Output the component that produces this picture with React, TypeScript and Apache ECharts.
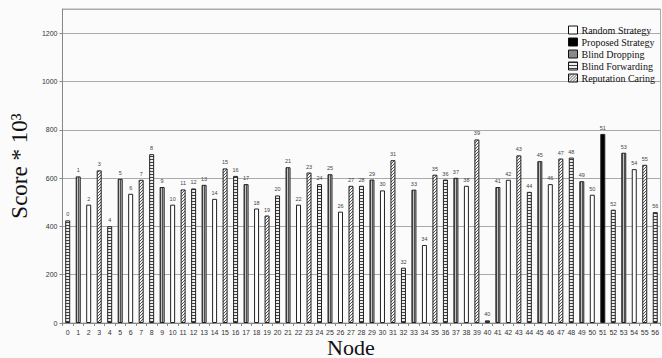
import React, { useEffect, useRef } from 'react';
import * as echarts from 'echarts';

const nodes = ['0','1','2','3','4','5','6','7','8','9','10','11','12','13','14','15','16','17','18','19','20','21','22','23','24','25','26','27','28','29','30','31','32','33','34','35','36','37','38','39','40','41','42','43','44','45','46','47','48','49','50','51','52','53','54','55','56'];

const scores = [425,607,490,632,401,597,535,593,699,563,490,553,557,572,514,640,609,575,474,445,528,645,490,623,575,616,461,568,568,594,549,674,229,552,323,614,594,601,568,760,11,563,593,694,543,670,575,681,685,587,531,783,469,705,637,655,459];

// F = Blind Forwarding, D = Blind Dropping, R = Random, C = Reputation Caring, P = Proposed
const strategyOf = ['F','D','R','C','F','D','R','C','F','D','R','C','F','D','R','C','F','D','R','C','F','D','R','C','F','D','R','C','F','D','R','C','F','D','R','C','F','D','R','C','F','D','R','C','F','D','R','C','F','D','R','P','F','D','R','C','F'];

const strategies = [
  { key: 'R', name: 'Random Strategy' },
  { key: 'P', name: 'Proposed Strategy' },
  { key: 'D', name: 'Blind Dropping' },
  { key: 'F', name: 'Blind Forwarding' },
  { key: 'C', name: 'Reputation Caring' },
];

const yTicks = { min: 0, max: 1300, interval: 200 };

function makePattern(w: number, h: number, draw: (ctx: CanvasRenderingContext2D) => void) {
  const c = document.createElement('canvas');
  c.width = w;
  c.height = h;
  const ctx = c.getContext('2d') as CanvasRenderingContext2D;
  draw(ctx);
  return { image: c.toDataURL(), repeat: 'repeat', imageWidth: w, imageHeight: h } as any;
}

export default function App() {
  const ref = useRef<HTMLDivElement>(null);
  useEffect(() => {
    if (!ref.current) return;
    const chart = echarts.init(ref.current, null, { renderer: 'svg' });

    const vertical = makePattern(2, 1, (ctx) => {
      ctx.fillStyle = '#c4c4c4';
      ctx.fillRect(0, 0, 2, 1);
      ctx.fillStyle = '#505050';
      ctx.fillRect(0, 0, 1, 1);
    });
    const horizontal = makePattern(1, 3, (ctx) => {
      ctx.fillStyle = '#eeeeee';
      ctx.fillRect(0, 0, 1, 3);
      ctx.fillStyle = '#404040';
      ctx.fillRect(0, 0, 1, 1);
    });
    const diagonal = makePattern(3, 3, (ctx) => {
      ctx.fillStyle = '#f4f4f4';
      ctx.fillRect(0, 0, 3, 3);
      ctx.fillStyle = '#555555';
      ctx.fillRect(2, 0, 1, 1);
      ctx.fillRect(1, 1, 1, 1);
      ctx.fillRect(0, 2, 1, 1);
    });

    const fills: Record<string, any> = {
      R: '#ffffff',
      P: '#000000',
      D: vertical,
      F: horizontal,
      C: diagonal,
    };

    const series = strategies.map((s) => ({
      name: s.name,
      type: 'bar',
      barWidth: 5,
      barGap: '-100%',
      data: scores.map((v, i) => (strategyOf[i] === s.key ? v : '-')),
      itemStyle: { color: fills[s.key], borderColor: '#222', borderWidth: 1 },
      label: {
        show: true,
        position: 'top',
        distance: 3,
        formatter: '{b}',
        fontSize: 5.5,
        color: '#444',
        fontFamily: 'Liberation Sans',
      },
    }));

    chart.setOption({
      animation: false,
      backgroundColor: '#fbfbfb',
      grid: {
        left: 53.5,
        right: -4.6,
        top: 9,
        bottom: 35,
        show: true,
        borderColor: '#aaaaaa',
        borderWidth: 1,
      },
      legend: {
        orient: 'vertical',
        left: 568,
        top: 25,
        padding: 0,
        itemWidth: 9,
        itemHeight: 8,
        itemGap: 2,
        icon: 'rect',
        itemStyle: { borderColor: '#111', borderWidth: 1 },
        textStyle: { fontFamily: 'Liberation Serif', fontSize: 10, color: '#111', padding: [0, 0, 0, -1] },
        data: strategies.map((s) => s.name),
      },
      xAxis: {
        type: 'category',
        data: nodes,
        axisLine: { lineStyle: { color: '#888' } },
        axisTick: { show: true, length: 3, lineStyle: { color: '#888' } },
        axisLabel: { interval: 0, fontSize: 7, color: '#333', margin: 6, fontFamily: 'Liberation Sans' },
      },
      yAxis: {
        type: 'value',
        min: yTicks.min,
        max: yTicks.max,
        interval: yTicks.interval,
        name: 'Score * 10³',
        nameLocation: 'middle',
        nameGap: 20,
        nameTextStyle: { fontFamily: 'Liberation Serif', fontSize: 23, color: '#111' },
        axisLine: { show: true, lineStyle: { color: '#888' } },
        axisTick: { show: true, length: 3, lineStyle: { color: '#888' } },
        axisLabel: {
          fontSize: 7,
          color: '#333',
          margin: 5,
          showMaxLabel: false,
          fontFamily: 'Liberation Sans',
          formatter: (v: number) => String(v),
        },
        splitLine: { lineStyle: { color: '#aaaaaa', width: 1 } },
      },
      graphic: [
        {
          type: 'text',
          left: 327,
          top: 336,
          style: { text: 'Node', fontFamily: 'Liberation Serif', fontSize: 22, fill: '#111' },
        },
      ],
      series,
    });
    return () => chart.dispose();
  }, []);
  return (
    <div style={{ position: 'fixed', left: 0, top: 0, width: 662, height: 358, overflow: 'hidden' }}>
      <div ref={ref} style={{ width: 662, height: 358 }} />
    </div>
  );
}
